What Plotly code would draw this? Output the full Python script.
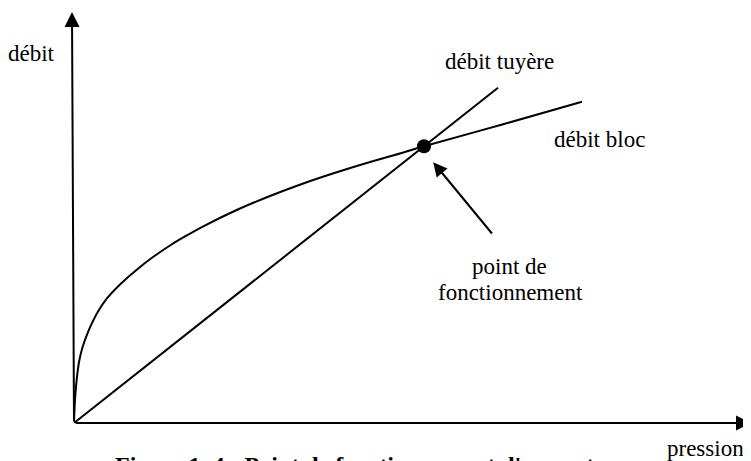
import plotly.graph_objects as go

# ---- data (arbitrary units) ----
bloc_pression = [0, 0.008, 0.025, 0.05, 0.085, 0.135, 0.215, 0.318, 0.443, 0.608,
                 0.818, 1.15, 1.568, 1.983, 2.4, 2.818, 3.233, 4.068, 4.9, 5.733,
                 6.568, 7.4, 8.233, 8.75, 10.73, 12.7]
bloc_debit = [0, 0.243, 0.575, 0.908, 1.243, 1.575, 1.9, 2.193, 2.483, 2.8,
              3.108, 3.463, 3.833, 4.155, 4.438, 4.688, 4.918, 5.325, 5.675, 5.988,
              6.268, 6.525, 6.763, 6.918, 7.47, 8.03]
tuyere_pression = [0, 10.6]
tuyere_debit = [0, 8.38]
point_pression = [8.75]
point_debit = [6.918]

X_MAX = 16.925
Y_MAX = 10.275

SERIF = "Liberation Serif"

fig = go.Figure()
fig.add_trace(go.Scatter(x=bloc_pression, y=bloc_debit, mode="lines",
                         line=dict(color="black", width=2, shape="spline", smoothing=1.0),
                         hoverinfo="skip"))
fig.add_trace(go.Scatter(x=tuyere_pression, y=tuyere_debit, mode="lines",
                         line=dict(color="black", width=2), hoverinfo="skip"))
fig.add_trace(go.Scatter(x=point_pression, y=point_debit, mode="markers",
                         marker=dict(color="black", size=14), hoverinfo="skip"))

def arrow(x, y, ax, ay, size=1.5):
    return dict(x=x, y=y, ax=ax, ay=ay, xref="x", yref="y", axref="x", ayref="y",
                text="", showarrow=True, arrowhead=2, arrowsize=size, arrowwidth=2,
                arrowcolor="black")

def label(text, px, py, size=23, bold=False):
    xp = (px - 74) / 677
    yp = (423 - py) / 411
    t = f"<b>{text}</b>" if bold else text
    return dict(x=xp, y=yp, xref="paper", yref="paper", text=t, showarrow=False,
                xanchor="center", yanchor="middle",
                font=dict(family=SERIF, size=size, color="black"))

annotations = [
    arrow(X_MAX, 0, 0, 0),
    arrow(-0.05, Y_MAX, 0, 0),
    arrow(8.98, 6.52, 10.48, 4.7, size=1.4),
    label("débit", 31.5, 54),
    label("débit tuyère", 499, 62),
    label("débit bloc", 599, 139),
    label("point de", 509, 266),
    label("fonctionnement", 510, 292),
    label("pression", 705, 449),
    label("Figure 1. 4 : Point de fonctionnement d'un moteur", 372, 465, size=24, bold=True),
]

# the page body has an 8px margin, so the figure is 8px smaller and shifted
fig.update_layout(
    width=743, height=453,
    margin=dict(l=66, r=0, t=4, b=38),
    paper_bgcolor="white", plot_bgcolor="white",
    showlegend=False,
    xaxis=dict(range=[0, X_MAX], visible=False, fixedrange=True),
    yaxis=dict(range=[0, Y_MAX], visible=False, fixedrange=True),
    annotations=annotations,
)

fig.write_html("out.html")
